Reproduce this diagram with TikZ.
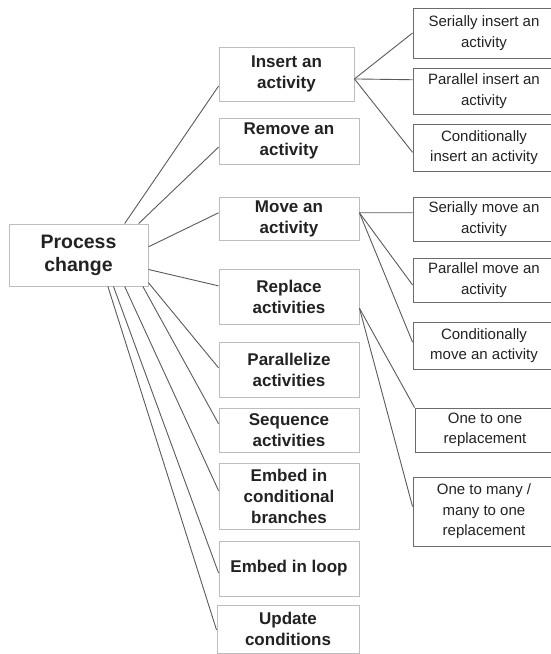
\documentclass[tikz,border=0pt]{standalone}
\usepackage{fontspec}
\setmainfont{Liberation Sans}
\usetikzlibrary{calc}

\definecolor{boxgray}{HTML}{BDBDBD}
\definecolor{leafgray}{HTML}{6B6B6B}
\definecolor{linegray}{HTML}{5A5A5A}
\definecolor{textgray}{HTML}{222222}

\begin{document}
\begin{tikzpicture}[
    x=1pt, y=-1pt,
    line width=0.9pt,
    root node/.style={rectangle, draw=boxgray, align=center, inner sep=0pt, text=textgray,
        font=\fontsize{19.5}{23}\selectfont\bfseries},
    main node/.style={rectangle, draw=boxgray, align=center, inner sep=0pt, text=textgray,
        minimum width=140pt, font=\fontsize{17}{21}\selectfont\bfseries},
    leaf node/.style={rectangle, draw=leafgray, align=center, inner sep=0pt, text=textgray,
        minimum width=142pt, font=\fontsize{15}{20.5}\selectfont},
    link/.style={draw=linegray}
]
\useasboundingbox (0,0) rectangle (550,654);

% Nodes
\node[root node, minimum width=139pt, minimum height=62pt] (pc) at (78.5, 255) {Process\\change};

\node[main node, minimum width=135pt, minimum height=54pt] (ins) at (286.5, 74) {Insert an\\activity};
\node[main node, minimum height=46pt] (rem) at (289, 141) {Remove an\\activity};
\node[main node, minimum height=43pt] (mov) at (289, 218.5) {Move an\\activity};
\node[main node, minimum height=55pt] (rep) at (289, 296.5) {Replace\\activities};
\node[main node, minimum height=55pt] (par) at (289, 369.5) {Parallelize\\activities};
\node[main node, minimum height=44pt] (seq) at (289, 430) {Sequence\\activities};
\node[main node, minimum height=66pt] (emc) at (289, 496) {Embed in\\conditional\\branches};
\node[main node, minimum height=55pt] (eml) at (289, 568.5) {Embed in loop};
\node[main node, minimum width=142pt, minimum height=48pt] (upd) at (288, 629) {Update\\conditions};

\node[leaf node, minimum height=50pt] (ins1) at (484, 33) {Serially insert an\\activity};
\node[leaf node, minimum height=46pt] (ins2) at (484, 91) {Parallel insert an\\activity};
\node[leaf node, minimum height=47pt] (ins3) at (484, 147.5) {Conditionally\\insert an activity};

\node[leaf node, minimum height=44pt] (mov1) at (484, 219) {Serially move an\\activity};
\node[leaf node, minimum height=44pt] (mov2) at (484, 280) {Parallel move an\\activity};
\node[leaf node, minimum height=47pt] (mov3) at (484, 345.5) {Conditionally\\move an activity};

\node[leaf node, minimum width=140pt, minimum height=44pt] (rep1) at (485, 430) {One to one\\replacement};
\node[leaf node, minimum height=69pt] (rep2) at (484, 511.5) {One to many /\\many to one\\replacement};

% Edges between Process change and the operations
\draw[link] ($(pc.north west)!0.83!(pc.north east)$) -- ($(ins.north west)!0.72!(ins.south west)$);
\draw[link] ($(pc.north west)!0.93!(pc.north east)$) -- ($(rem.north west)!0.63!(rem.south west)$);
\draw[link] ($(pc.north east)!0.37!(pc.south east)$) -- ($(mov.north west)!0.37!(mov.south west)$);
\draw[link] ($(pc.north east)!0.73!(pc.south east)$) -- ($(rep.north west)!0.31!(rep.south west)$);
\draw[link] ($(pc.north east)!0.94!(pc.south east)$) -- ($(par.north west)!0.47!(par.south west)$);
\draw[link] ($(pc.south west)!0.96!(pc.south east)$) -- ($(seq.north west)!0.36!(seq.south west)$);
\draw[link] ($(pc.south west)!0.83!(pc.south east)$) -- ($(emc.north west)!0.42!(emc.south west)$);
\draw[link] ($(pc.south west)!0.75!(pc.south east)$) -- ($(eml.north west)!0.58!(eml.south west)$);
\draw[link] ($(pc.south west)!0.71!(pc.south east)$) -- ($(upd.north west)!0.52!(upd.south west)$);

% Edges between Insert an activity and its variants
\draw[link] ($(ins.north east)!0.59!(ins.south east)$) -- (ins1.west);
\draw[link] ($(ins.north east)!0.59!(ins.south east)$) -- ($(ins2.north west)!0.26!(ins2.south west)$);
\draw[link] ($(ins.north east)!0.59!(ins.south east)$) -- ($(ins3.north west)!0.60!(ins3.south west)$);

% Edges between Move an activity and its variants
\draw[link] ($(mov.north east)!0.37!(mov.south east)$) -- ($(mov1.north west)!0.36!(mov1.south west)$);
\draw[link] ($(mov.north east)!0.37!(mov.south east)$) -- ($(mov2.north west)!0.61!(mov2.south west)$);
\draw[link] ($(mov.north east)!0.37!(mov.south east)$) -- ($(mov3.north west)!0.43!(mov3.south west)$);

% Edges between Replace activities and its variants
\draw[link] ($(rep.north east)!0.71!(rep.south east)$) -- (rep1.north west);
\draw[link] ($(rep.north east)!0.71!(rep.south east)$) -- ($(rep2.north west)!0.43!(rep2.south west)$);

\end{tikzpicture}
\end{document}
